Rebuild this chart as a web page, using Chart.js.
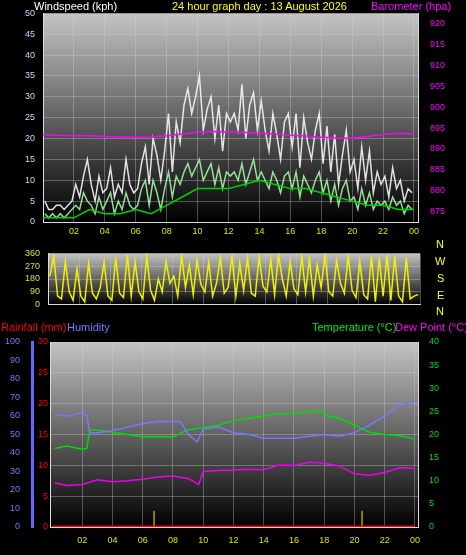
<!DOCTYPE html>
<html><head><meta charset="utf-8">
<script src="https://cdn.jsdelivr.net/npm/chart.js@4"></script>
<style>
body{margin:0;background:#000;width:466px;height:555px;overflow:hidden;position:relative;font-family:"Liberation Sans",sans-serif}
canvas{position:absolute;left:0}
.t{position:absolute;font-size:11px;white-space:nowrap;line-height:12px}
</style></head><body>
<canvas id="c1" style="top:0"></canvas>
<canvas id="c2" style="top:240px"></canvas>
<canvas id="c3" style="top:320px"></canvas>
<div class="t" style="left:34px;top:0;color:#fff">Windspeed (kph)</div>
<div class="t" style="left:172px;top:0;color:#ffff00">24 hour graph day : 13 August 2026</div>
<div class="t" style="left:371px;top:0;color:#ff00ff">Barometer (hpa)</div>
<div class="t" style="left:436px;top:238px;color:#ffff00">N</div>
<div class="t" style="left:435px;top:255px;color:#ffff00">W</div>
<div class="t" style="left:437px;top:272px;color:#ffff00">S</div>
<div class="t" style="left:437px;top:289px;color:#ffff00">E</div>
<div class="t" style="left:436px;top:305px;color:#ffff00">N</div>
<div class="t" style="left:1px;top:321px;color:#ff0000">Rainfall (mm)</div>
<div class="t" style="left:67px;top:321px;color:#7777ff">Humidity</div>
<div class="t" style="left:312px;top:321px;color:#00ee00">Temperature (°C)</div>
<div class="t" style="left:395px;top:321px;color:#ff00ff">Dew Point (°C)</div>
<script>
// ---- data ----
const gust = [5,3,3,4,4,3,4,5, 9,6,11,15,9,5,11,7, 8,13,6,9,7,15,9,7, 8,14,18,9,20,16,10,17,
 26,12,24,19,28,32,26,30, 35,22,27,30,20,28,17,26, 24,26,22,33,20,28,31,22, 29,22,17,26,21,15,24,26,
 18,26,13,25,19,15,22,26, 14,23,12,21,9,16,22,12, 15,8,18,10,17,7,12,9, 11,6,13,8,10,5,8,7];
const speed = [2,1,2,1,2,1,2,3, 4,3,7,5,4,2,6,3, 5,7,2,5,3,7,4,3, 4,8,10,4,10,7,3,8,
 12,6,11,9,12,14,11,13, 15,10,12,14,9,13,8,12, 11,12,10,14,9,12,15,10, 12,10,8,12,10,7,11,12,
 8,12,6,11,9,7,10,12, 7,10,5,9,4,8,10,5, 6,3,8,4,7,3,5,4, 5,3,6,4,5,2,4,3];
const avgWind = [1,1,1,3,2,2,3,2,4,6,8,8,8,9,10,9,8,8,7,6,5,4,4,3,3];
const baro = [893.5,893.3,893.2,893.2,893,892.9,892.8,892.9,893.2,893.6,894,894.2,894.1,894,893.8,893.6,893.3,893.1,892.8,892.6,892.6,893,893.5,893.8,893.6];
const windDir = [200,340,60,40,300,90,30,250, 60,20,290,80,40,120,300,60, 30,330,80,50,350,60,300,90,
 40,340,100,30,180,90,300,150, 200,60,350,120,280,70,310,140, 90,300,60,150,330,80,120,340,
 60,290,100,330,80,60,340,130, 90,320,70,350,180,60,300,110, 70,340,90,320,60,280,120,350,
 90,60,310,150,80,340,100,50, 300,70,40,340,20,330,60,350, 30,340,60,20,330,40,60,70];
const tempTimes = [0.2,1,2,2.3,2.5,3,4,5,6,7,8,9,10,11,12,13,14,15,16,17,18,18.2,19,20,21,22,23,24];
const temps =     [17,17.5,16.8,17,21,21,20.5,20,19.5,19.5,19.5,21,21.5,22,23,23.5,24,24.5,24.5,25,25,24,23.5,22,20.5,20,19.8,19];
const humTimes = [0.2,1,2,2.3,2.5,3,4,5,6,7,8,8.5,9,9.6,10,11,12,13,14,15,16,17,18,19,20,21,22,23,24];
const humidity = [61,60,62,60,51,51,52,54,56,57,57,57,50,46,53,54,51,50,48,48,48,49,50,49,51,55,60,66,68];
const dewTimes = [0.2,1,2,3,4,5,6,7,8,9,9.7,10,11,12,13,14,15,16,17,18,19,20,21,22,23,24];
const dewPoint = [9.5,9,9.2,10.2,9.8,10,10.3,10.8,11,10.5,9.2,12,12.2,12.3,12.5,12.4,13.4,13.3,14,13.8,13.2,11.5,11.2,11.8,12.8,12.7];
const rainTimes = [0,24];
const rainfall = [0,0];
const rateTimes = [6.75,20.5];
const rainRate = [3.5,3.5];

const quarter = i => i*0.25;
const pts = (t,v) => v.map((y,i)=>({x:t[i],y}));

const bgPlugin = {id:'bg',beforeDraw(c){const a=c.chartArea,x=c.ctx;const g=x.createLinearGradient(0,a.top,0,a.bottom);
 g.addColorStop(0,'#c4c4c4');g.addColorStop(1,'#000');x.save();x.fillStyle=g;x.fillRect(a.left,a.top,a.right-a.left,a.bottom-a.top);x.restore();}};
Chart.register(bgPlugin);
Chart.defaults.font.family='"Liberation Sans",sans-serif';
Chart.defaults.font.size=9;
Chart.defaults.animation=false;
const grid={color:'rgba(210,210,210,0.35)',borderDash:[1,2],drawTicks:false};
const hourTicks = s=>{s.ticks=[2,4,6,8,10,12,14,16,18,20,22,24].map(v=>({value:v}));};
const hourLabel = v=>{const h=v%24;return (h<10?'0':'')+h;};
const width=(w)=>s=>{s.width=w;};
const height=(h)=>s=>{s.height=h;};
function mk(id,w,h,datasets,scales,pad){const cv=document.getElementById(id);cv.width=w;cv.height=h;cv.style.width=w+'px';cv.style.height=h+'px';
 return new Chart(cv,{type:'line',data:{datasets},options:{responsive:false,devicePixelRatio:1,layout:{padding:pad},
 plugins:{legend:{display:false},tooltip:{enabled:false}},elements:{point:{radius:0},line:{borderWidth:1,tension:0}},scales}});}

mk('c1',466,240,[
 {data:pts(baro.map((_,i)=>i),baro),borderColor:'#ff00ff',borderWidth:1.5,yAxisID:'yb'},
 {data:pts(avgWind.map((_,i)=>i),avgWind),borderColor:'#00d000',borderWidth:1.5,yAxisID:'y'},
 {data:speed.map((y,i)=>({x:quarter(i)+0.12,y})),borderColor:'rgba(170,255,170,0.85)',borderWidth:1.5,yAxisID:'y'},
 {data:gust.map((y,i)=>({x:quarter(i)+0.12,y})),borderColor:'rgba(245,245,245,0.9)',borderWidth:1.5,yAxisID:'y'}
],{
 x:{type:'linear',min:0,max:24.26,afterBuildTicks:hourTicks,afterFit:height(18),grid,border:{color:'#ddd'},ticks:{color:'#e0e000',callback:hourLabel,maxRotation:0,padding:4}},
 y:{min:0,max:50,afterFit:width(43),grid,border:{color:'#ddd'},ticks:{stepSize:5,color:'#c8d8ff',padding:8}},
 yb:{position:'right',min:872.5,max:922.5,afterFit:width(48),afterBuildTicks:s=>{s.ticks=[875,880,885,890,895,900,905,910,915,920].map(v=>({value:v}));},grid:{display:false},border:{color:'#ddd'},ticks:{color:'#ff00ff',padding:4}}
},{top:12,left:0,right:0,bottom:0});

mk('c2',466,78,[
 {data:windDir.map((y,i)=>({x:quarter(i)+0.12,y})),borderColor:'#f0f000',borderWidth:1.5}
],{
 x:{type:'linear',min:0,max:24,display:true,afterBuildTicks:hourTicks,afterFit:height(6),grid,border:{color:'#ddd'},ticks:{display:false}},
 y:{min:0,max:360,afterFit:width(48),grid,border:{color:'#ddd'},ticks:{stepSize:90,color:'#d0e040',padding:8}}
},{top:6,left:0,right:46,bottom:0});

mk('c3',466,235,[
 {data:pts(rainTimes,rainfall),borderColor:'#ff0000',borderWidth:3,yAxisID:'yr'},
 {data:[{x:rateTimes[0],y:0},{x:rateTimes[0],y:rainRate[0]}],borderColor:'#b0a000',borderWidth:1.5,yAxisID:'yt'},
 {data:[{x:rateTimes[1],y:0},{x:rateTimes[1],y:rainRate[1]}],borderColor:'#b0a000',borderWidth:1.5,yAxisID:'yt'},
 {data:pts(dewTimes,dewPoint),borderColor:'#ee00ee',borderWidth:1.5,yAxisID:'yt'},
 {data:pts(humTimes,humidity),borderColor:'#7777ff',borderWidth:1.5,yAxisID:'yh'},
 {data:pts(tempTimes,temps),borderColor:'#00dd00',borderWidth:1.5,yAxisID:'yt'}
],{
 x:{type:'linear',min:-0.13,max:24.2,afterBuildTicks:hourTicks,afterFit:height(28),grid,border:{color:'#ddd'},ticks:{color:'#e0e000',callback:hourLabel,maxRotation:0,padding:8}},
 yh:{position:'left',weight:1,min:0,max:100,afterFit:width(32),grid:{display:false},border:{color:'#6666ff',width:3},ticks:{stepSize:10,color:'#7777ff',padding:4}},
 yr:{position:'left',weight:0,min:0,max:30,afterFit:width(18),grid,border:{color:'#ddd'},ticks:{stepSize:5,color:'#ff0000',padding:2}},
 yt:{position:'right',min:0,max:40,afterFit:width(48),grid:{display:false},border:{color:'#ddd'},ticks:{stepSize:5,color:'#00dd00',padding:3}}
},{top:22,left:0,right:0,bottom:0});
</script></body></html>
